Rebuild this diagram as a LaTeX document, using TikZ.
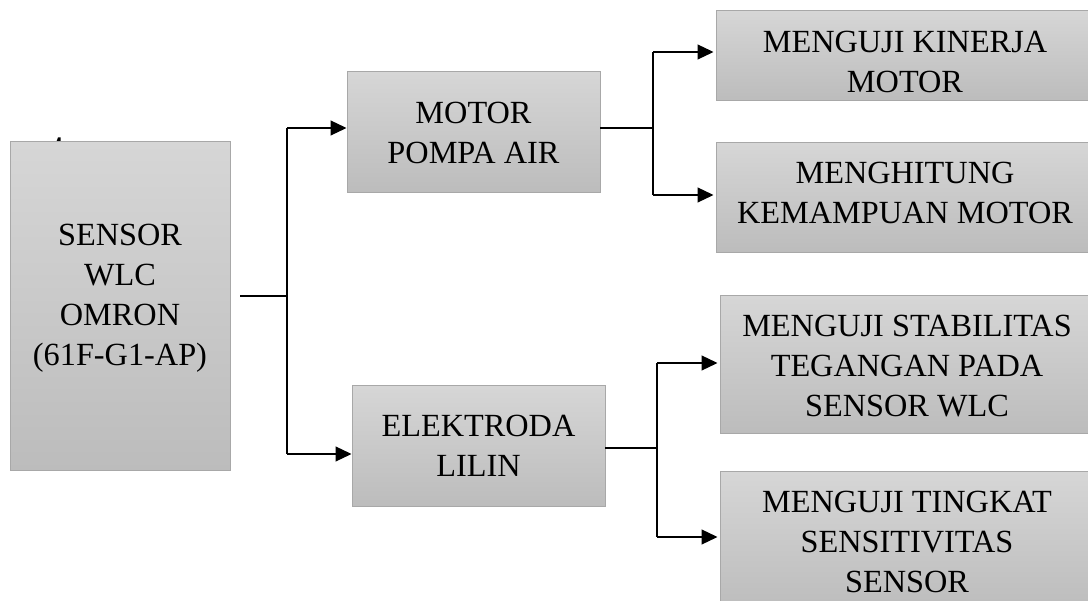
\documentclass[tikz,border=0pt]{standalone}
\usepackage{fontspec}
\setmainfont{Liberation Serif}
\usetikzlibrary{arrows.meta}
\definecolor{boxtop}{RGB}{214,214,214}
\definecolor{boxbot}{RGB}{188,188,188}
\definecolor{boxline}{RGB}{168,168,168}
\tikzset{
  box/.style={rectangle, draw=boxline, line width=1pt, top color=boxtop, bottom color=boxbot, inner sep=0pt},
  txt/.style={align=center, inner sep=0pt, font=\fontsize{32.3}{40}\selectfont},
  conn/.style={line width=1.2pt, black},
  arr/.style={conn, -{Triangle[length=16pt,width=15pt]}}
}
\begin{document}
\begin{tikzpicture}[x=1pt,y=-1pt]
\useasboundingbox (0,0) rectangle (1088,601);
% tiny mark above sensor box
\fill[black] (56,143) -- (58,137.5) -- (60.5,137.5) -- (60.5,143) -- cycle;
% boxes
\node[box, minimum width=220pt, minimum height=329pt] (sensor) at (120,306.5) {};
\node[box, minimum width=253pt, minimum height=121pt] (motor) at (473.5,132.5) {};
\node[box, minimum width=253pt, minimum height=121pt] (elek) at (478.5,446.5) {};
\node[box, minimum width=378pt, minimum height=90pt] (kin) at (905,56) {};
\node[box, minimum width=378pt, minimum height=110pt] (hit) at (905,198) {};
\node[box, minimum width=374pt, minimum height=138pt] (stab) at (907,365) {};
\node[box, minimum width=374pt, minimum height=140pt] (ting) at (907,542) {};
% texts
\node[txt] (sensorT) at (120,298) {SENSOR\\WLC\\OMRON\\(61F-G1-AP)};
\node[txt] (motorT) at (473.5,132.5) {MOTOR\\POMPA AIR};
\node[txt] (elekT) at (478.5,445.5) {ELEKTRODA\\LILIN};
\node[txt] (kinT) at (905,61.5) {MENGUJI KINERJA\\MOTOR};
\node[txt] (hitT) at (905,193) {MENGHITUNG\\KEMAMPUAN MOTOR};
\node[txt] (stabT) at (907,366) {MENGUJI STABILITAS\\TEGANGAN PADA\\SENSOR WLC};
\node[txt] (tingT) at (907,542) {MENGUJI TINGKAT\\SENSITIVITAS\\SENSOR};
% junction coordinates
\coordinate (s1) at (240,296);
\coordinate (j1) at (287,296);
\coordinate (j1a) at (287,128);
\coordinate (j1b) at (287,454);
\coordinate (m1) at (600,128);
\coordinate (j2) at (653,128);
\coordinate (j2a) at (653,52);
\coordinate (j2b) at (653,195);
\coordinate (e1) at (605,448);
\coordinate (j3) at (657,448);
\coordinate (j3a) at (657,363);
\coordinate (j3b) at (657,537);
% connectors
\draw[conn] (s1) -- (j1);
\draw[conn] (j1a) -- (j1b);
\draw[arr] (j1a) -- (motor.west |- j1a);
\draw[arr] (j1b) -- (elek.west |- j1b);
\draw[conn] (m1) -- (j2);
\draw[conn] (j2a) -- (j2b);
\draw[arr] (j2a) -- ([xshift=-2pt]kin.west |- j2a);
\draw[arr] (j2b) -- ([xshift=-2pt]hit.west |- j2b);
\draw[conn] (e1) -- (j3);
\draw[conn] (j3a) -- (j3b);
\draw[arr] (j3a) -- ([xshift=-2pt]stab.west |- j3a);
\draw[arr] (j3b) -- ([xshift=-2pt]ting.west |- j3b);
\end{tikzpicture}
\end{document}
